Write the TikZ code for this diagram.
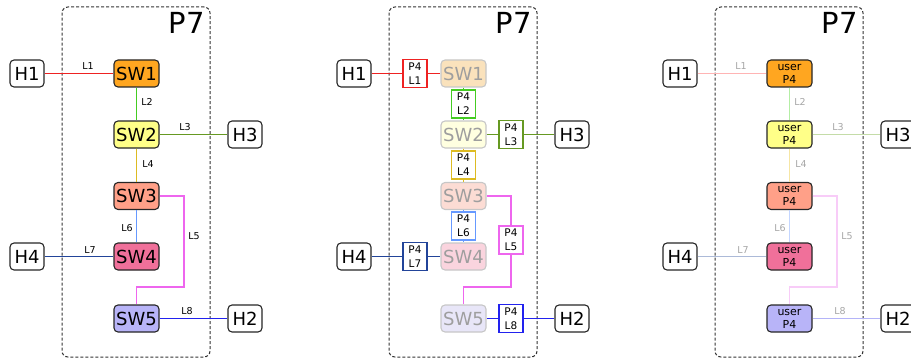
\documentclass[tikz,border=0pt]{standalone}
\usepackage{fontspec}
\setmainfont{DejaVu Sans}
\definecolor{swone}{HTML}{FFA620}
\definecolor{swtwo}{HTML}{FFFF88}
\definecolor{swthree}{HTML}{FFA088}
\definecolor{swfour}{HTML}{F0709A}
\definecolor{swfive}{HTML}{B8B4F8}
\definecolor{fdone}{HTML}{FAE2BC}
\definecolor{fdtwo}{HTML}{FFFFE0}
\definecolor{fdthree}{HTML}{FCDCD4}
\definecolor{fdfour}{HTML}{FAD4DE}
\definecolor{fdfive}{HTML}{E8E6F8}
\definecolor{lkone}{HTML}{EE2222}
\definecolor{lktwo}{HTML}{44CC22}
\definecolor{lkthree}{HTML}{669922}
\definecolor{lkfour}{HTML}{DDBB22}
\definecolor{lkfive}{HTML}{EE66EE}
\definecolor{lksix}{HTML}{6699FF}
\definecolor{lkseven}{HTML}{224499}
\definecolor{lkeight}{HTML}{2222EE}
\definecolor{ltone}{HTML}{FFB4B4}
\definecolor{lttwo}{HTML}{B4EEA4}
\definecolor{ltthree}{HTML}{C4DCA8}
\definecolor{ltfour}{HTML}{F6E6A4}
\definecolor{ltfive}{HTML}{F8CCF8}
\definecolor{ltsix}{HTML}{C4D6FF}
\definecolor{ltseven}{HTML}{ACBAD8}
\definecolor{lteight}{HTML}{B4B4F8}
\begin{document}
\begin{tikzpicture}[x=1pt,y=-1pt,
  box/.style={draw=black!85, line width=1.1pt, rounded corners=4pt, inner sep=0pt, minimum height=27pt, font=\fontsize{18}{20}\selectfont},
  host/.style={box, fill=white, minimum width=34pt},
  sw/.style={box, minimum width=45pt},
  swfade/.style={sw, draw=black!22, text=black!38},
  swuser/.style={sw, font=\fontsize{11}{13}\selectfont, align=center},
  pbox/.style={draw, fill=white, line width=1.2pt, minimum width=24pt, minimum height=28pt, inner sep=0pt, align=center, font=\fontsize{10.5}{14}\selectfont},
  lbl/.style={font=\fontsize{9.5}{11}\selectfont, inner sep=0pt},
  lblfade/.style={lbl, text=black!35},
  link/.style={line width=1.8pt},
  pframe/.style={draw=black!80, dash pattern=on 3pt off 2pt, line width=1pt, rounded corners=6pt, minimum width=148pt, minimum height=350pt, inner sep=0pt},
  ptitle/.style={font=\fontsize{29}{30}\selectfont, inner sep=0pt, anchor=base east}
]
\useasboundingbox (0,0) rectangle (911,361);

% ---------------- Panel 1 ----------------
\begin{scope}
\node[pframe] (aF) at (136,182) {};
\node[ptitle] (aT) at (205,34) {P7};
\node[host] (aH1) at (27,73.5) {H1};
\node[host] (aH4) at (27,256.5) {H4};
\node[host] (aH3) at (245,134.5) {H3};
\node[host] (aH2) at (245,318.5) {H2};
\node[sw, fill=swone] (aS1) at (136.5,73.5) {SW1};
\node[sw, fill=swtwo] (aS2) at (136.5,134.5) {SW2};
\node[sw, fill=swthree] (aS3) at (136.5,196) {SW3};
\node[sw, fill=swfour] (aS4) at (136.5,256.5) {SW4};
\node[sw, fill=swfive] (aS5) at (136.5,318.5) {SW5};
\coordinate (aK) at (184,287);
\draw[link, draw=lkone] (aH1) -- (aS1);
\draw[link, draw=lktwo] (aS1) -- (aS2);
\draw[link, draw=lkthree] (aS2) -- (aH3);
\draw[link, draw=lkfour] (aS2) -- (aS3);
\draw[link, draw=lkfive] (aS3.east) -| (aK) -| (aS5.north);
\draw[link, draw=lksix] (aS3) -- (aS4);
\draw[link, draw=lkseven] (aH4) -- (aS4);
\draw[link, draw=lkeight] (aS5) -- (aH2);
\node[lbl] (aL1) at (88,66) {L1};
\node[lbl] (aL2) at (147,102) {L2};
\node[lbl] (aL3) at (185,127) {L3};
\node[lbl] (aL4) at (148,164) {L4};
\node[lbl] (aL5) at (194,236) {L5};
\node[lbl] (aL6) at (127,228) {L6};
\node[lbl] (aL7) at (90,250) {L7};
\node[lbl] (aL8) at (187,311) {L8};
\end{scope}

% ---------------- Panel 2 ----------------
\begin{scope}[xshift=327pt]
\node[pframe] (bF) at (136,182) {};
\node[ptitle] (bT) at (205,34) {P7};
\node[host] (bH1) at (27,73.5) {H1};
\node[host] (bH4) at (27,256.5) {H4};
\node[host] (bH3) at (245,134.5) {H3};
\node[host] (bH2) at (245,318.5) {H2};
\node[swfade, fill=fdone] (bS1) at (136.5,73.5) {SW1};
\node[swfade, fill=fdtwo] (bS2) at (136.5,134.5) {SW2};
\node[swfade, fill=fdthree] (bS3) at (136.5,196) {SW3};
\node[swfade, fill=fdfour] (bS4) at (136.5,256.5) {SW4};
\node[swfade, fill=fdfive] (bS5) at (136.5,318.5) {SW5};
\coordinate (bK) at (184,287);
\draw[link, draw=lkone] (bH1) -- (bS1);
\draw[link, draw=lktwo] (bS1) -- (bS2);
\draw[link, draw=lkthree] (bS2) -- (bH3);
\draw[link, draw=lkfour] (bS2) -- (bS3);
\draw[link, draw=lkfive] (bS3.east) -| (bK) -| (bS5.north);
\draw[link, draw=lksix] (bS3) -- (bS4);
\draw[link, draw=lkseven] (bH4) -- (bS4);
\draw[link, draw=lkeight] (bS5) -- (bH2);
\node[pbox, draw=lkone] (bP1) at (88,73.5) {P4\\L1};
\node[pbox, draw=lktwo] (bP2) at (136.5,104) {P4\\L2};
\node[pbox, draw=lkthree] (bP3) at (184,134.5) {P4\\L3};
\node[pbox, draw=lkfour] (bP4) at (136.5,165) {P4\\L4};
\node[pbox, draw=lkfive] (bP5) at (184,240) {P4\\L5};
\node[pbox, draw=lksix] (bP6) at (136.5,226) {P4\\L6};
\node[pbox, draw=lkseven] (bP7) at (88,256.5) {P4\\L7};
\node[pbox, draw=lkeight] (bP8) at (184,318.5) {P4\\L8};
\end{scope}

% ---------------- Panel 3 ----------------
\begin{scope}[xshift=653pt]
\node[pframe] (cF) at (136,182) {};
\node[ptitle] (cT) at (205,34) {P7};
\node[host] (cH1) at (27,73.5) {H1};
\node[host] (cH4) at (27,256.5) {H4};
\node[host] (cH3) at (245,134.5) {H3};
\node[host] (cH2) at (245,318.5) {H2};
\node[swuser, fill=swone] (cS1) at (136.5,73.5) {user\\P4};
\node[swuser, fill=swtwo] (cS2) at (136.5,134.5) {user\\P4};
\node[swuser, fill=swthree] (cS3) at (136.5,196) {user\\P4};
\node[swuser, fill=swfour] (cS4) at (136.5,256.5) {user\\P4};
\node[swuser, fill=swfive] (cS5) at (136.5,318.5) {user\\P4};
\coordinate (cK) at (184,287);
\draw[link, draw=ltone] (cH1) -- (cS1);
\draw[link, draw=lttwo] (cS1) -- (cS2);
\draw[link, draw=ltthree] (cS2) -- (cH3);
\draw[link, draw=ltfour] (cS2) -- (cS3);
\draw[link, draw=ltfive] (cS3.east) -| (cK) -| (cS5.north);
\draw[link, draw=ltsix] (cS3) -- (cS4);
\draw[link, draw=ltseven] (cH4) -- (cS4);
\draw[link, draw=lteight] (cS5) -- (cH2);
\node[lblfade] (cL1) at (88,66) {L1};
\node[lblfade] (cL2) at (147,102) {L2};
\node[lblfade] (cL3) at (185,127) {L3};
\node[lblfade] (cL4) at (148,164) {L4};
\node[lblfade] (cL5) at (194,236) {L5};
\node[lblfade] (cL6) at (127,228) {L6};
\node[lblfade] (cL7) at (90,250) {L7};
\node[lblfade] (cL8) at (187,311) {L8};
\end{scope}
\end{tikzpicture}
\end{document}
